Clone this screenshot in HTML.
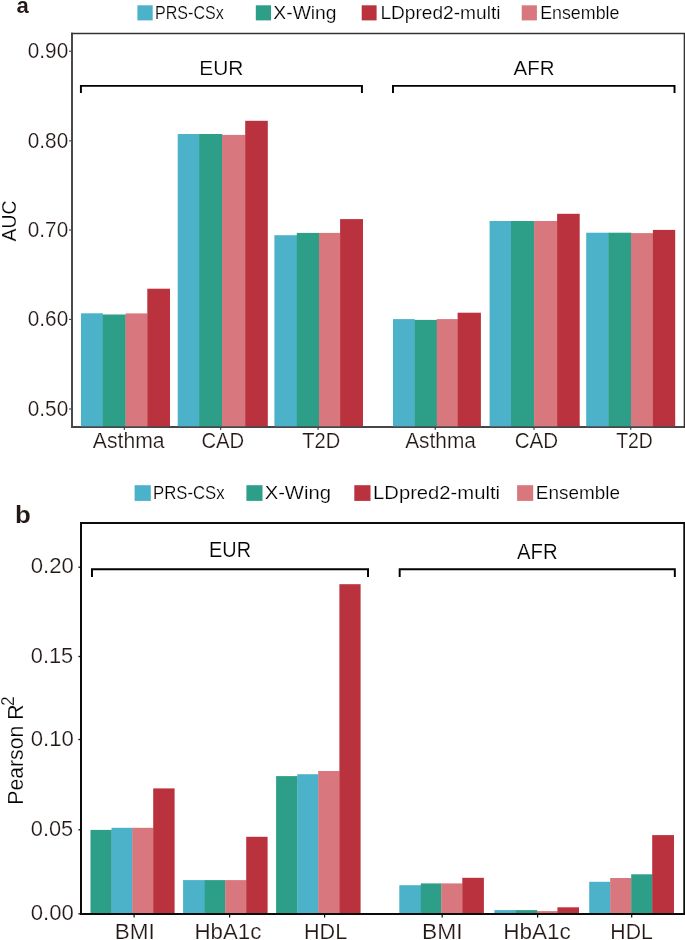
<!DOCTYPE html>
<html><head><meta charset="utf-8"><title>chart</title>
<style>
html,body{margin:0;padding:0;background:#fff;}
svg{display:block;will-change:transform;font-family:"Liberation Sans",sans-serif;}
</style></head>
<body>
<svg width="685" height="940" viewBox="0 0 685 940">
<rect x="0" y="0" width="685" height="940" fill="#fff"/>
<polyline points="72.0,32.65 72.0,426.95 685,426.95" fill="none" stroke="#444649" stroke-width="1.95"/>
<polyline points="71.05,33.4 684.45,33.4 684.45,427.9" fill="none" stroke="#323436" stroke-width="1.55"/>
<rect x="81.00" y="313.30" width="21.90" height="113.00" fill="#4cb2c9"/>
<rect x="102.60" y="314.50" width="23.20" height="111.80" fill="#2d9f89"/>
<rect x="125.50" y="313.40" width="22.10" height="112.90" fill="#d9777f"/>
<rect x="147.30" y="288.70" width="22.70" height="137.60" fill="#b9323d"/>
<rect x="177.70" y="134.00" width="21.70" height="292.30" fill="#4cb2c9"/>
<rect x="199.10" y="134.00" width="23.20" height="292.30" fill="#2d9f89"/>
<rect x="222.00" y="134.90" width="23.50" height="291.40" fill="#d9777f"/>
<rect x="245.20" y="120.80" width="22.60" height="305.50" fill="#b9323d"/>
<rect x="274.40" y="235.20" width="22.70" height="191.10" fill="#4cb2c9"/>
<rect x="296.80" y="232.90" width="22.50" height="193.40" fill="#2d9f89"/>
<rect x="319.00" y="232.90" width="21.40" height="193.40" fill="#d9777f"/>
<rect x="340.10" y="219.10" width="22.90" height="207.20" fill="#b9323d"/>
<rect x="393.00" y="319.10" width="21.80" height="107.20" fill="#4cb2c9"/>
<rect x="414.50" y="319.90" width="22.60" height="106.40" fill="#2d9f89"/>
<rect x="436.80" y="319.10" width="21.10" height="107.20" fill="#d9777f"/>
<rect x="457.60" y="312.70" width="23.30" height="113.60" fill="#b9323d"/>
<rect x="489.60" y="221.00" width="21.70" height="205.30" fill="#4cb2c9"/>
<rect x="511.00" y="221.00" width="23.40" height="205.30" fill="#2d9f89"/>
<rect x="534.10" y="221.00" width="23.30" height="205.30" fill="#d9777f"/>
<rect x="557.10" y="213.80" width="22.60" height="212.50" fill="#b9323d"/>
<rect x="586.20" y="232.70" width="22.40" height="193.60" fill="#4cb2c9"/>
<rect x="608.30" y="232.70" width="23.00" height="193.60" fill="#2d9f89"/>
<rect x="631.00" y="233.10" width="22.20" height="193.20" fill="#d9777f"/>
<rect x="652.90" y="229.90" width="22.30" height="196.40" fill="#b9323d"/>
<line x1="69.00" y1="51.20" x2="71.50" y2="51.20" stroke="#444649" stroke-width="1.1"/>
<text x="27.79" y="58.28" font-size="21.75" textLength="40.40" lengthAdjust="spacingAndGlyphs" fill="#231815" stroke="#fff" stroke-width="0.2">0.90</text>
<line x1="69.00" y1="140.90" x2="71.50" y2="140.90" stroke="#444649" stroke-width="1.1"/>
<text x="27.79" y="147.98" font-size="21.75" textLength="40.40" lengthAdjust="spacingAndGlyphs" fill="#231815" stroke="#fff" stroke-width="0.2">0.80</text>
<line x1="69.00" y1="230.00" x2="71.50" y2="230.00" stroke="#444649" stroke-width="1.1"/>
<text x="27.79" y="237.08" font-size="21.75" textLength="40.40" lengthAdjust="spacingAndGlyphs" fill="#231815" stroke="#fff" stroke-width="0.2">0.70</text>
<line x1="69.00" y1="319.40" x2="71.50" y2="319.40" stroke="#444649" stroke-width="1.1"/>
<text x="27.79" y="326.48" font-size="21.75" textLength="40.40" lengthAdjust="spacingAndGlyphs" fill="#231815" stroke="#fff" stroke-width="0.2">0.60</text>
<line x1="69.00" y1="409.00" x2="71.50" y2="409.00" stroke="#444649" stroke-width="1.1"/>
<text x="27.79" y="416.08" font-size="21.75" textLength="40.40" lengthAdjust="spacingAndGlyphs" fill="#231815" stroke="#fff" stroke-width="0.2">0.50</text>
<line x1="124.40" y1="427.50" x2="124.40" y2="429.80" stroke="#444649" stroke-width="1.3"/>
<line x1="220.60" y1="427.50" x2="220.60" y2="429.80" stroke="#444649" stroke-width="1.3"/>
<line x1="318.10" y1="427.50" x2="318.10" y2="429.80" stroke="#444649" stroke-width="1.3"/>
<line x1="435.30" y1="427.50" x2="435.30" y2="429.80" stroke="#444649" stroke-width="1.3"/>
<line x1="534.00" y1="427.50" x2="534.00" y2="429.80" stroke="#444649" stroke-width="1.3"/>
<line x1="630.70" y1="427.50" x2="630.70" y2="429.80" stroke="#444649" stroke-width="1.3"/>
<text x="92.86" y="447.80" font-size="21.4" textLength="71.72" lengthAdjust="spacingAndGlyphs" fill="#231815" stroke="#fff" stroke-width="0.2">Asthma</text>
<text x="201.39" y="447.80" font-size="21.4" textLength="42.77" lengthAdjust="spacingAndGlyphs" fill="#231815" stroke="#fff" stroke-width="0.2">CAD</text>
<text x="302.26" y="447.80" font-size="21.4" textLength="37.99" lengthAdjust="spacingAndGlyphs" fill="#231815" stroke="#fff" stroke-width="0.2">T2D</text>
<text x="405.16" y="447.80" font-size="21.4" textLength="70.72" lengthAdjust="spacingAndGlyphs" fill="#231815" stroke="#fff" stroke-width="0.2">Asthma</text>
<text x="514.67" y="447.80" font-size="21.4" textLength="43.51" lengthAdjust="spacingAndGlyphs" fill="#231815" stroke="#fff" stroke-width="0.2">CAD</text>
<text x="616.17" y="447.80" font-size="21.4" textLength="36.64" lengthAdjust="spacingAndGlyphs" fill="#231815" stroke="#fff" stroke-width="0.2">T2D</text>
<polyline points="80.92,93.00 80.92,85.88 361.92,85.88 361.92,93.00" fill="none" stroke="#000" stroke-width="1.95" stroke-linejoin="miter"/>
<polyline points="392.98,93.00 392.98,85.88 674.52,85.88 674.52,93.00" fill="none" stroke="#000" stroke-width="1.95" stroke-linejoin="miter"/>
<text x="199.28" y="74.70" font-size="20.06" textLength="44.19" lengthAdjust="spacingAndGlyphs" fill="#000" stroke="#fff" stroke-width="0.2">EUR</text>
<text x="513.56" y="75.20" font-size="20.35" textLength="40.98" lengthAdjust="spacingAndGlyphs" fill="#000" stroke="#fff" stroke-width="0.2">AFR</text>
<rect x="137.40" y="5.30" width="15.30" height="15.10" fill="#4cb2c9"/>
<text x="155.09" y="18.60" font-size="18.2" textLength="68.58" lengthAdjust="spacingAndGlyphs" fill="#000" stroke="#fff" stroke-width="0.2">PRS-CSx</text>
<rect x="255.80" y="5.30" width="15.20" height="15.10" fill="#2d9f89"/>
<text x="273.38" y="18.60" font-size="18.2" textLength="63.16" lengthAdjust="spacingAndGlyphs" fill="#000" stroke="#fff" stroke-width="0.2">X-Wing</text>
<rect x="361.70" y="5.30" width="14.90" height="15.10" fill="#b9323d"/>
<text x="380.43" y="18.60" font-size="18.2" textLength="120.05" lengthAdjust="spacingAndGlyphs" fill="#000" stroke="#fff" stroke-width="0.2">LDpred2-multi</text>
<rect x="521.70" y="5.30" width="15.20" height="15.10" fill="#d9777f"/>
<text x="540.14" y="18.60" font-size="18.2" textLength="79.34" lengthAdjust="spacingAndGlyphs" fill="#000" stroke="#fff" stroke-width="0.2">Ensemble</text>
<text transform="translate(15.89,241.50) rotate(-90)" x="-0.04" y="0" font-size="21.05" textLength="41.07" lengthAdjust="spacingAndGlyphs" fill="#000" stroke="#fff" stroke-width="0.2">AUC</text>
<text x="16.46" y="13.18" font-size="22.26" textLength="12.29" lengthAdjust="spacingAndGlyphs" fill="#231815" font-weight="bold" stroke="#fff" stroke-width="0.1">a</text>
<rect x="90.50" y="829.90" width="21.30" height="83.80" fill="#2d9f89"/>
<rect x="111.50" y="827.80" width="21.00" height="85.90" fill="#4cb2c9"/>
<rect x="132.20" y="827.80" width="21.30" height="85.90" fill="#d9777f"/>
<rect x="153.20" y="788.40" width="21.40" height="125.30" fill="#b9323d"/>
<rect x="183.10" y="880.10" width="21.90" height="33.60" fill="#4cb2c9"/>
<rect x="204.70" y="880.10" width="20.80" height="33.60" fill="#2d9f89"/>
<rect x="225.20" y="880.10" width="21.30" height="33.60" fill="#d9777f"/>
<rect x="246.20" y="836.80" width="21.40" height="76.90" fill="#b9323d"/>
<rect x="276.10" y="776.10" width="21.50" height="137.60" fill="#2d9f89"/>
<rect x="297.30" y="774.20" width="21.20" height="139.50" fill="#4cb2c9"/>
<rect x="318.20" y="771.00" width="21.50" height="142.70" fill="#d9777f"/>
<rect x="339.40" y="584.20" width="21.20" height="329.50" fill="#b9323d"/>
<rect x="399.30" y="885.20" width="21.80" height="28.50" fill="#4cb2c9"/>
<rect x="420.80" y="883.40" width="20.80" height="30.30" fill="#2d9f89"/>
<rect x="441.30" y="883.40" width="21.30" height="30.30" fill="#d9777f"/>
<rect x="462.30" y="877.80" width="21.60" height="35.90" fill="#b9323d"/>
<rect x="494.40" y="910.10" width="21.80" height="3.60" fill="#4cb2c9"/>
<rect x="515.90" y="910.10" width="21.30" height="3.60" fill="#2d9f89"/>
<rect x="536.90" y="911.10" width="20.80" height="2.60" fill="#d9777f"/>
<rect x="557.40" y="907.30" width="21.60" height="6.40" fill="#b9323d"/>
<rect x="589.20" y="881.80" width="21.30" height="31.90" fill="#4cb2c9"/>
<rect x="610.20" y="878.00" width="21.30" height="35.70" fill="#d9777f"/>
<rect x="631.20" y="874.30" width="21.30" height="39.40" fill="#2d9f89"/>
<rect x="652.20" y="835.10" width="21.80" height="78.60" fill="#b9323d"/>
<rect x="81.0" y="523.0" width="603.30" height="391.00" fill="none" stroke="#0b0b0b" stroke-width="2"/>
<line x1="78.40" y1="567.20" x2="80.80" y2="567.20" stroke="#0b0b0b" stroke-width="1.3"/>
<text x="30.74" y="573.48" font-size="21.89" textLength="43.11" lengthAdjust="spacingAndGlyphs" fill="#231815" stroke="#fff" stroke-width="0.2">0.20</text>
<line x1="78.40" y1="656.50" x2="80.80" y2="656.50" stroke="#0b0b0b" stroke-width="1.3"/>
<text x="30.75" y="662.78" font-size="21.89" textLength="42.45" lengthAdjust="spacingAndGlyphs" fill="#231815" stroke="#fff" stroke-width="0.2">0.15</text>
<line x1="78.40" y1="739.50" x2="80.80" y2="739.50" stroke="#0b0b0b" stroke-width="1.3"/>
<text x="30.74" y="745.78" font-size="21.89" textLength="43.11" lengthAdjust="spacingAndGlyphs" fill="#231815" stroke="#fff" stroke-width="0.2">0.10</text>
<line x1="78.40" y1="829.80" x2="80.80" y2="829.80" stroke="#0b0b0b" stroke-width="1.3"/>
<text x="30.75" y="836.08" font-size="21.89" textLength="42.45" lengthAdjust="spacingAndGlyphs" fill="#231815" stroke="#fff" stroke-width="0.2">0.05</text>
<line x1="78.40" y1="913.80" x2="80.80" y2="913.80" stroke="#0b0b0b" stroke-width="1.3"/>
<text x="30.74" y="920.08" font-size="21.89" textLength="43.11" lengthAdjust="spacingAndGlyphs" fill="#231815" stroke="#fff" stroke-width="0.2">0.00</text>
<line x1="134.10" y1="914.50" x2="134.10" y2="917.60" stroke="#0b0b0b" stroke-width="1.2"/>
<line x1="229.60" y1="914.50" x2="229.60" y2="917.60" stroke="#0b0b0b" stroke-width="1.2"/>
<line x1="324.60" y1="914.50" x2="324.60" y2="917.60" stroke="#0b0b0b" stroke-width="1.2"/>
<line x1="442.20" y1="914.50" x2="442.20" y2="917.60" stroke="#0b0b0b" stroke-width="1.2"/>
<line x1="537.60" y1="914.50" x2="537.60" y2="917.60" stroke="#0b0b0b" stroke-width="1.2"/>
<line x1="631.70" y1="914.50" x2="631.70" y2="917.60" stroke="#0b0b0b" stroke-width="1.2"/>
<text x="114.85" y="938.50" font-size="22.0" textLength="40.01" lengthAdjust="spacingAndGlyphs" fill="#231815" stroke="#fff" stroke-width="0.2">BMI</text>
<text x="194.47" y="938.50" font-size="22.0" textLength="66.92" lengthAdjust="spacingAndGlyphs" fill="#231815" stroke="#fff" stroke-width="0.2">HbA1c</text>
<text x="303.93" y="938.50" font-size="22.0" textLength="43.30" lengthAdjust="spacingAndGlyphs" fill="#231815" stroke="#fff" stroke-width="0.2">HDL</text>
<text x="422.03" y="938.50" font-size="22.0" textLength="40.57" lengthAdjust="spacingAndGlyphs" fill="#231815" stroke="#fff" stroke-width="0.2">BMI</text>
<text x="503.25" y="938.50" font-size="22.0" textLength="67.64" lengthAdjust="spacingAndGlyphs" fill="#231815" stroke="#fff" stroke-width="0.2">HbA1c</text>
<text x="610.36" y="938.50" font-size="22.0" textLength="42.56" lengthAdjust="spacingAndGlyphs" fill="#231815" stroke="#fff" stroke-width="0.2">HDL</text>
<polyline points="91.97,576.90 91.97,569.27 368.02,569.27 368.02,576.90" fill="none" stroke="#000" stroke-width="1.95" stroke-linejoin="miter"/>
<polyline points="399.68,576.90 399.68,569.27 674.82,569.27 674.82,576.90" fill="none" stroke="#000" stroke-width="1.95" stroke-linejoin="miter"/>
<text x="209.07" y="556.98" font-size="21.92" textLength="41.95" lengthAdjust="spacingAndGlyphs" fill="#000" stroke="#fff" stroke-width="0.2">EUR</text>
<text x="517.06" y="558.60" font-size="21.95" textLength="40.57" lengthAdjust="spacingAndGlyphs" fill="#000" stroke="#fff" stroke-width="0.2">AFR</text>
<rect x="134.60" y="485.20" width="16.20" height="15.70" fill="#4cb2c9"/>
<text x="153.03" y="498.70" font-size="18.6" textLength="71.65" lengthAdjust="spacingAndGlyphs" fill="#000" stroke="#fff" stroke-width="0.2">PRS-CSx</text>
<rect x="246.40" y="485.20" width="16.10" height="15.70" fill="#2d9f89"/>
<text x="264.66" y="498.70" font-size="18.6" textLength="66.24" lengthAdjust="spacingAndGlyphs" fill="#000" stroke="#fff" stroke-width="0.2">X-Wing</text>
<rect x="354.30" y="485.20" width="16.20" height="15.70" fill="#b9323d"/>
<text x="373.04" y="498.70" font-size="18.6" textLength="127.02" lengthAdjust="spacingAndGlyphs" fill="#000" stroke="#fff" stroke-width="0.2">LDpred2-multi</text>
<rect x="517.10" y="485.20" width="16.10" height="15.70" fill="#d9777f"/>
<text x="535.85" y="498.70" font-size="18.6" textLength="84.08" lengthAdjust="spacingAndGlyphs" fill="#000" stroke="#fff" stroke-width="0.2">Ensemble</text>
<text transform="translate(23.10,803.00) rotate(-90)" x="-1.74" y="0" font-size="22.4" textLength="100.33" lengthAdjust="spacingAndGlyphs" fill="#000" stroke="#fff" stroke-width="0.2">Pearson R</text>
<text transform="translate(14.00,705.10) rotate(-90)" x="-0.87" y="0" font-size="18.48" textLength="9.64" lengthAdjust="spacingAndGlyphs" fill="#000" stroke="#fff" stroke-width="0.2">2</text>
<text x="15.01" y="522.67" font-size="23.27" textLength="15.85" lengthAdjust="spacingAndGlyphs" fill="#231815" font-weight="bold" stroke="#fff" stroke-width="0.1">b</text>
</svg>
</body></html>
